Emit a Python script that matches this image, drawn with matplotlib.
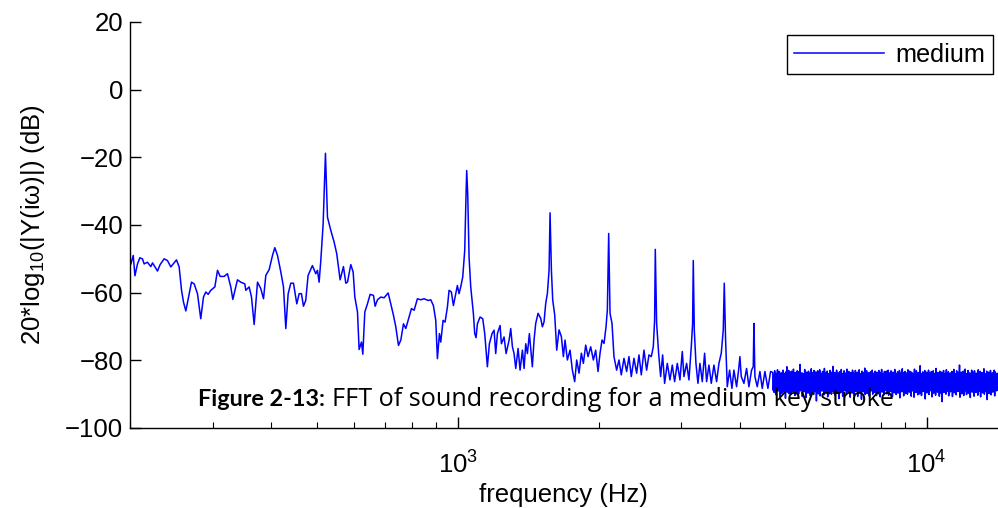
import numpy as np
import matplotlib
matplotlib.use("Agg")
import matplotlib.pyplot as plt

plt.rcParams["font.family"] = ["Liberation Sans", "DejaVu Sans"]
plt.rcParams["mathtext.fontset"] = "custom"
plt.rcParams["mathtext.rm"] = "Liberation Sans"
plt.rcParams["mathtext.it"] = "Liberation Sans:italic"
plt.rcParams["mathtext.bf"] = "Liberation Sans:bold"

# Spectrum of the recorded key stroke, 200 Hz - 4.6 kHz (frequency in Hz, level in dB)
freq_hz = [
    200.9, 203.2, 204.9, 207.5, 209.9, 212.6, 214.4, 217.9, 221.5, 223.4,
    228.9, 231.9, 236.5, 240.4, 244.4, 251.3, 254.6, 257.6, 260.1, 263.1,
    266.6, 270.5, 274.1, 278.6, 283.1, 286.9, 290.2, 293.6, 297.4, 303.4,
    307.4, 311.4, 317.6, 322.8, 328.1, 331.4, 336.3, 339.0, 344.6, 351.5,
    353.2, 359.1, 363.2, 368.0, 374.1, 380.2, 385.3, 389.7, 396.1, 402.7,
    407.3, 412.7, 419.5, 425.0, 429.9, 434.9, 440.6, 446.4, 453.7, 459.0,
    464.2, 468.8, 474.1, 479.6, 489.9, 498.1, 502.2, 506.3, 510.5, 516.4,
    522.3, 527.5, 536.2, 545.1,
    552.1, 561.3, 570.6, 577.2, 582.0, 591.5, 598.4, 603.4, 611.3, 616.2,
    623.4, 627.5, 633.7, 642.0, 650.5, 661.2, 666.6, 674.3, 685.4, 696.7,
    710.6, 719.9, 729.4, 737.9, 747.6, 756.3, 766.2, 775.0, 784.0, 796.9,
    807.4, 820.4, 834.0, 847.7, 864.7, 876.0, 887.5, 897.8, 905.2, 914.1,
    920.2, 930.7, 939.9, 950.8, 958.5, 969.4, 979.1, 990.2, 998.4, 1006.7,
    1014.9, 1025.0, 1035.1, 1041.9, 1045.3, 1050.4, 1057.4, 1066.1, 1080.1, 1087.2,
    1094.4, 1101.5, 1116.1, 1130.8, 1142.0, 1156.9, 1168.4, 1183.8, 1195.6, 1205.3,
    1215.3, 1231.3, 1239.4, 1255.7, 1268.2, 1287.0, 1297.5, 1308.3, 1318.9, 1329.9,
    1345.3, 1358.4, 1374.1, 1385.5, 1396.7, 1408.3, 1422.0,
    1442.8, 1455.0, 1466.9, 1483.9, 1503.5, 1515.7, 1528.3, 1540.7, 1553.5, 1566.4,
    1574.0, 1584.3, 1594.7, 1610.4, 1626.3, 1645.0, 1664.0, 1680.4, 1694.2, 1713.7,
    1736.3, 1756.3, 1776.5, 1794.0, 1814.7, 1835.6, 1853.7, 1875.1, 1896.7, 1921.7,
    1947.0, 1969.4, 1992.1, 2011.8, 2031.6, 2051.7, 2071.9, 2085.5, 2099.2, 2113.0,
    2133.8, 2154.4, 2182.8, 2208.0, 2233.4, 2262.9, 2292.7, 2319.1, 2345.8, 2376.7,
    2408.0, 2435.8, 2463.8, 2496.3, 2529.2, 2558.3, 2587.8, 2613.3, 2630.5, 2639.1,
    2656.5, 2682.7, 2709.2, 2735.9, 2762.9, 2799.3, 2836.2, 2868.9, 2901.9, 2940.2,
    2978.9, 3013.2, 3037.9, 3078.0, 3113.4, 3149.3, 3170.0, 3180.4, 3196.1, 3222.3,
    3254.1, 3286.2, 3324.1, 3362.4, 3395.6, 3434.7, 3474.3, 3520.0, 3566.4, 3607.4,
    3649.0, 3685.0, 3703.1, 3727.5, 3758.1, 3801.4, 3845.2, 3883.1, 3934.2, 3973.1,
    3999.2, 4025.4, 4078.5, 4132.3, 4179.8, 4234.9, 4269.7, 4283.7, 4304.8, 4354.4,
    4411.8, 4462.6, 4521.4, 4588.4, 4648.9,
]
level_db = [
    -51.5, -49.0, -55.0, -51.5, -49.7, -50.0, -51.5, -51.0, -52.3, -51.2,
    -53.6, -51.7, -50.0, -50.5, -52.4, -50.3, -52.4, -59.3, -62.8, -65.4,
    -61.3, -56.9, -57.4, -60.3, -67.7, -61.3, -59.8, -60.5, -59.3, -58.3,
    -53.4, -55.2, -55.2, -54.4, -58.3, -62.0, -58.3, -56.2, -56.9, -57.4,
    -59.3, -58.3, -61.3, -69.4, -56.9, -58.8, -61.8, -54.9, -53.2, -49.0,
    -46.7, -49.0, -53.9, -58.3, -70.6, -60.3, -57.2, -57.2, -63.3, -60.3,
    -60.3, -64.0, -62.3, -54.9, -52.0, -54.4, -53.4, -56.9, -50.5, -39.7,
    -18.8, -37.7, -41.6, -45.1,
    -48.5, -56.2, -52.3, -57.2, -56.9, -51.7, -53.9, -61.3, -65.7, -76.8,
    -74.6, -78.2, -65.7, -63.3, -60.5, -60.8, -64.0, -62.1, -61.3, -61.5,
    -60.1, -63.3, -66.7, -70.1, -75.6, -74.0, -69.2, -70.6, -68.2, -64.7,
    -65.2, -61.8, -62.1, -61.8, -62.3, -62.1, -63.8, -68.2, -79.5, -72.1,
    -74.6, -68.2, -68.7, -64.2, -59.3, -59.8, -63.8, -60.3, -57.9, -60.3,
    -58.3, -55.4, -47.5, -30.8, -23.9, -30.8, -49.5, -58.3, -66.2, -72.1,
    -73.3, -69.2, -67.2, -67.7, -72.1, -81.9, -75.1, -72.1, -71.1, -78.0,
    -72.1, -69.7, -75.1, -73.1, -78.0, -74.1, -70.6, -76.0, -78.0, -82.4,
    -76.5, -82.9, -77.0, -82.4, -75.1, -78.0, -72.1,
    -81.9, -74.0, -69.1, -66.1, -67.6, -70.1, -68.6, -63.2, -60.2, -53.3,
    -36.4, -53.3, -62.2, -66.6, -77.0, -71.0, -73.0, -78.9, -74.0, -79.9,
    -77.0, -82.9, -86.3, -79.9, -83.8, -77.9, -80.9, -75.5, -78.9, -76.0,
    -79.9, -77.0, -83.3, -77.9, -74.0, -75.0, -70.1, -65.1, -42.5, -66.1,
    -69.1, -78.9, -82.9, -79.9, -84.3, -79.4, -83.3, -78.9, -84.8, -79.4,
    -83.8, -78.4, -84.3, -77.0, -82.9, -78.4, -78.9, -76.0, -68.1, -47.2,
    -69.1, -77.9, -84.8, -78.4, -86.8, -80.9, -85.8, -81.4, -86.3, -80.9,
    -85.8, -77.4, -84.8, -80.9, -85.8, -76.0, -69.1, -50.5, -71.0, -80.9,
    -86.8, -80.9, -86.3, -77.9, -86.3, -81.4, -86.8, -81.4, -86.3, -80.9,
    -77.9, -71.0, -57.2, -74.0, -87.8, -82.9, -88.3, -82.9, -87.8, -82.9,
    -78.9, -84.8, -86.8, -82.4, -87.8, -82.9, -81.9, -69.1, -84.8, -87.8,
    -83.3, -88.3, -83.3, -88.3, -83.3,
]

# Noise floor above 4.7 kHz: consecutive levels (dB) on a log-spaced frequency grid
floor_start_hz = 4700.0
floor_stop_hz = 14170.0
floor_db = [
    -83.6, -88.9, -84.2, -89.5, -83.1, -87.8, -84.7, -90.2, -83.9, -88.4, -82.8, -89.1, -84.4, -87.6, -83.3, -90.6, -84.0, -88.2, -83.7, -89.8,
    -84.5, -88.7, -82.9, -89.3, -83.8, -87.9, -84.1, -91.2, -83.4, -88.6, -81.9, -89.4, -84.3, -88.0, -83.0, -89.9, -84.6, -88.3, -83.5, -90.1,
    -83.2, -87.7, -84.8, -89.2, -82.6, -88.8, -84.0, -90.4, -83.6, -88.1, -84.2, -89.6, -83.1, -87.5, -84.9, -90.0, -83.3, -88.9, -81.2, -89.0,
    -84.1, -88.4, -83.7, -90.7, -83.9, -87.9, -84.4, -89.3, -82.7, -88.6, -84.0, -91.0, -83.5, -88.2, -84.6, -89.7, -83.2, -88.0, -83.8, -90.3,
    -84.3, -88.8, -82.5, -89.5, -83.6, -87.8, -84.7, -90.1, -83.0, -88.5, -84.1, -89.2, -83.4, -92.0, -84.5, -88.3, -83.1, -89.9, -84.2, -88.1,
    -82.8, -90.5, -83.9, -88.7, -84.4, -89.1, -83.3, -87.6, -84.0, -90.2, -82.4, -88.9, -83.7, -89.4, -84.8, -88.0, -83.2, -90.8, -83.9, -88.5,
    -84.6, -89.6, -83.0, -88.2, -84.3, -90.0, -83.5, -88.7, -81.8, -89.3, -84.1, -87.9, -83.6, -90.4, -84.7, -88.4, -82.9, -89.8, -83.8, -88.6,
    -84.2, -91.3, -83.4, -88.1, -84.0, -89.5, -82.7, -88.8, -83.9, -90.6, -84.5, -88.3, -83.1, -89.0, -84.4, -87.7, -83.7, -90.2, -82.6, -88.9,
    -84.8, -89.4, -83.3, -88.0, -84.1, -90.9, -83.6, -88.6, -84.3, -89.7, -82.9, -88.2, -83.8, -90.3, -84.6, -88.7, -83.0, -89.2, -84.0, -87.8,
    -83.5, -90.7, -84.4, -88.5, -82.8, -89.6, -83.9, -88.1, -84.7, -91.5, -83.2, -88.9, -84.2, -89.3, -83.6, -88.0, -82.3, -90.1, -84.5, -88.6,
    -83.1, -89.8, -84.0, -88.3, -83.7, -90.5, -84.6, -88.8, -83.4, -89.1, -84.9, -87.9, -82.9, -90.0, -83.8, -88.4, -84.3, -89.5, -83.2, -88.7,
    -84.1, -90.4, -83.5, -88.2, -84.8, -89.9, -83.0, -88.6, -84.4, -90.8, -83.6, -88.1, -82.7, -89.4, -84.2, -88.9, -83.9, -90.2, -83.3, -89.0,
    -84.4, -88.6, -83.2, -89.9, -84.0, -88.1, -82.9, -90.3, -83.7, -88.8, -84.5, -89.2, -83.1, -87.9, -84.2, -90.7, -83.5, -88.4, -84.7, -89.6,
    -82.7, -88.9, -83.9, -90.1, -84.3, -88.2, -83.4, -89.7, -84.6, -88.5, -83.0, -91.1, -83.8, -88.0, -84.1, -89.3, -82.5, -88.7, -83.6, -90.5,
    -84.8, -88.3, -83.3, -89.8, -84.0, -88.9, -83.7, -90.0, -82.8, -88.6, -84.4, -89.4, -83.2, -87.8, -84.6, -90.6, -83.5, -88.2, -84.1, -89.1,
    -83.9, -90.9, -82.6, -88.4, -84.3, -89.5, -83.1, -88.0, -84.7, -90.2, -83.6, -88.8, -84.0, -89.9, -81.6, -88.5, -83.8, -90.4, -84.5, -88.1,
    -83.4, -89.2, -84.2, -88.7, -83.0, -91.4, -84.9, -88.3, -83.5, -89.6, -84.1, -88.9, -82.9, -90.1, -83.7, -88.2, -84.4, -89.0, -83.3, -90.8,
    -84.6, -88.6, -83.1, -89.7, -84.0, -88.0, -83.8, -90.3, -82.4, -88.9, -84.3, -89.4, -83.6, -88.1, -84.8, -90.6, -83.2, -88.5, -84.1, -89.8,
    -83.5, -92.2, -84.4, -88.3, -83.0, -89.5, -84.7, -88.7, -83.9, -90.0, -82.8, -88.4, -84.2, -89.1, -83.4, -90.5, -84.5, -88.8, -83.7, -89.3,
    -84.0, -88.2, -83.3, -90.7, -84.6, -88.9, -82.7, -89.6, -83.8, -88.0, -84.3, -90.2, -83.1, -88.6, -84.9, -89.2, -83.6, -88.4, -81.4, -90.9,
    -84.2, -88.7, -83.5, -89.9, -84.0, -88.1, -83.2, -90.4, -84.5, -88.5, -82.6, -89.0, -83.9, -90.1, -84.4, -88.3, -83.0, -89.7, -84.7, -88.8,
    -83.7, -91.0, -84.1, -88.2, -82.9, -89.4, -83.4, -88.9, -84.6, -90.6, -83.1, -88.0, -84.3, -89.5, -83.8, -88.6, -84.0, -90.3, -82.8, -88.4,
    -84.8, -89.1, -83.3, -90.8, -84.2, -88.7, -83.6, -89.6, -84.5, -88.1, -82.5, -90.0, -83.9, -88.9, -84.1, -89.3, -83.2, -91.6, -84.7, -88.5,
    -83.5, -89.8, -84.4, -88.3, -83.0, -90.2, -84.0, -88.8, -83.7, -89.4, -84.6, -88.0, -82.9, -90.5, -83.4, -88.6, -84.2, -89.0, -83.8, -88.7,
]

series_label = "medium"
x_label = "frequency (Hz)"
y_label = "20*log$_{10}$(|Y(i\u03c9)|) (dB)"
y_ticks = [-100, -80, -60, -40, -20, 0, 20]
caption_bold = "Figure 2-13:"
caption_rest = "FFT of sound recording for a medium key stroke"

floor_hz = np.geomspace(floor_start_hz, floor_stop_hz, len(floor_db))
f_all = np.concatenate([np.asarray(freq_hz), floor_hz])
db_all = np.concatenate([np.asarray(level_db), np.asarray(floor_db)])

W, H = 998, 508
fig = plt.figure(figsize=(W / 100, H / 100), dpi=100)
ax = fig.add_axes([130 / W, 1 - 428 / H, 867.5 / W, 406 / H])

ax.plot(f_all, db_all, color="#0000ff", lw=1.1, label=series_label)

ax.set_xscale("log")
ax.set_xlim(200, 14170)
ax.set_ylim(-100, 20)
ax.set_yticks(y_ticks)
ax.spines["top"].set_visible(False)
ax.spines["right"].set_visible(False)
for s in ("left", "bottom"):
    ax.spines[s].set_linewidth(1.0)
ax.tick_params(axis="both", which="major", direction="in", length=8, width=1.0,
               labelsize=18.5, pad=5)
ax.tick_params(axis="x", which="major", pad=17)
ax.tick_params(axis="x", which="minor", direction="in", length=4, width=0.8)

ax.set_xlabel(x_label, fontsize=18.5, labelpad=3)
ax.set_ylabel(y_label, fontsize=18.5, labelpad=13)

leg = ax.legend(loc="upper right", bbox_to_anchor=(993 / W, 1 - 35 / H),
                bbox_transform=fig.transFigure, fancybox=False, framealpha=1,
                edgecolor="black", fontsize=18.2, handlelength=3.55,
                handletextpad=0.45, borderpad=0.3, borderaxespad=0)
leg.get_frame().set_linewidth(1.0)

# Caption: bold label followed by the regular description
fig.text(198 / W, 1 - 406 / H, caption_bold, fontsize=16.8, fontweight="bold",
         family=["Lato", "DejaVu Sans"], color="black", ha="left", va="baseline")
fig.text(332 / W, 1 - 406 / H, caption_rest, fontsize=18.2,
         family=["Open Sans", "DejaVu Sans"], color="black", ha="left", va="baseline")

fig.savefig("out.png", dpi=100)
